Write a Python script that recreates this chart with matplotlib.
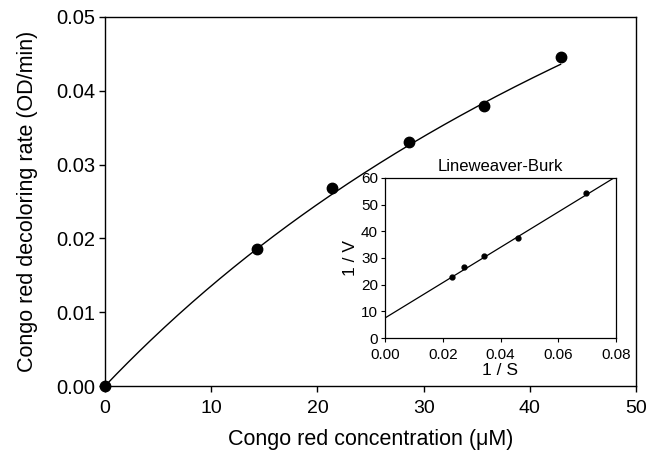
import numpy as np
import matplotlib
matplotlib.use("Agg")
import matplotlib.pyplot as plt

plt.rcParams['font.family'] = ['Liberation Sans', 'DejaVu Sans']

# Main data: Congo red concentration (uM) vs decoloring rate (OD/min)
conc = [0.0, 14.3, 21.4, 28.6, 35.7, 42.9]
rate = [0.0, 0.0185, 0.0268, 0.0330, 0.0380, 0.0446]

# Michaelis-Menten fit parameters (from Lineweaver-Burk line)
lb_intercept = 7.5      # 1/Vmax
lb_slope = 662.5        # Km/Vmax
vmax = 1.0 / lb_intercept
km = lb_slope * vmax

# Inset data: Lineweaver-Burk
inv_s = [0.0233, 0.0275, 0.0343, 0.0462, 0.0695]
inv_v = [22.7, 26.5, 30.6, 37.6, 54.5]

main_xticks = [0, 10, 20, 30, 40, 50]
main_yticks = [0.00, 0.01, 0.02, 0.03, 0.04, 0.05]
inset_xticks = [0.00, 0.02, 0.04, 0.06, 0.08]
inset_yticks = [0, 10, 20, 30, 40, 50, 60]

fig = plt.figure(figsize=(6.49, 4.51), dpi=100)
ax = fig.add_axes([105/649, 1-386/451, (636-105)/649, (386-17)/451])

s_curve = np.linspace(0, conc[-1], 200)
ax.plot(s_curve, vmax * s_curve / (km + s_curve), color='black', lw=1.0)
ax.plot(conc, rate, 'o', color='black', ms=7.5, clip_on=False, zorder=5)

ax.set_xlim(0, 50)
ax.set_ylim(0, 0.05)
ax.set_xticks(main_xticks)
ax.set_yticks(main_yticks)
ax.set_xticklabels([str(t) for t in main_xticks])
ax.set_yticklabels([f"{t:.2f}" for t in main_yticks])
ax.tick_params(axis='x', direction='out', length=4, width=1, labelsize=14, pad=6)
ax.tick_params(axis='y', direction='out', length=4, width=1, labelsize=14.5, pad=3)
ax.set_xlabel("Congo red concentration (\u03bcM)", fontsize=15.5, labelpad=9)
ax.set_ylabel("Congo red decoloring rate (OD/min)", fontsize=15.5, labelpad=13)
for sp in ax.spines.values():
    sp.set_linewidth(1.0)

# Inset
ai = fig.add_axes([385/649, 1-338/451, (616-385)/649, (338-178)/451])
xl = np.array([0.0, 0.08])
ai.plot(xl, lb_intercept + lb_slope * xl, color='black', lw=0.9)
ai.plot(inv_s, inv_v, 'o', color='black', ms=3.5, zorder=5)
ai.set_xlim(0, 0.08)
ai.set_ylim(0, 60)
ai.set_xticks(inset_xticks)
ai.set_yticks(inset_yticks)
ai.set_xticklabels([f"{t:.2f}" for t in inset_xticks])
ai.set_yticklabels([str(t) for t in inset_yticks])
ai.tick_params(axis='x', direction='out', length=3, width=0.8, labelsize=11, pad=4)
ai.tick_params(axis='y', direction='out', length=3, width=0.8, labelsize=11, pad=2)
ai.set_xlabel("1 / S", fontsize=12.5, labelpad=1)
ai.set_ylabel("1 / V", fontsize=12.5, labelpad=2)
ai.set_title("Lineweaver-Burk", fontsize=12, pad=5)
for sp in ai.spines.values():
    sp.set_linewidth(0.9)

fig.savefig("out.png", dpi=100)
